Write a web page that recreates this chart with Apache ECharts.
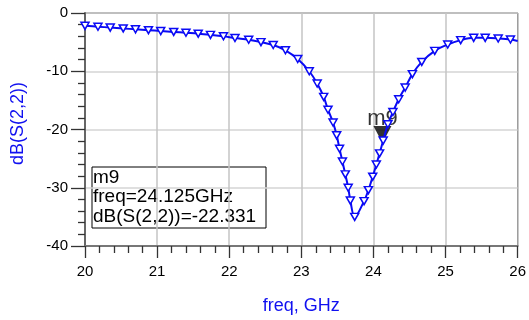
<!DOCTYPE html>
<html>
<head>
<meta charset="utf-8">
<script src="https://cdn.jsdelivr.net/npm/echarts@6/dist/echarts.min.js"></script>
<style>
html, body { margin: 0; padding: 0; background: #fff; }
#myChart { width: 529px; height: 320px; }
</style>
</head>
<body>
<div id="myChart"></div>
<script>
// 数据 (读自图片)
let freq = [20.00, 20.18, 20.35, 20.53, 20.70, 20.88, 21.05, 21.23, 21.40, 21.57, 21.74, 21.92,
    22.08, 22.27, 22.44, 22.61, 22.78, 22.95, 23.11, 23.22, 23.31, 23.37, 23.44, 23.49, 23.53,
    23.57, 23.61, 23.65, 23.68, 23.74, 23.87, 23.93, 23.99, 24.04, 24.085, 24.135, 24.20, 24.27,
    24.35, 24.44, 24.54, 24.67, 24.85, 25.03, 25.21, 25.39, 25.55, 25.73, 25.90, 26.00]
let s22 = [-2.2, -2.35, -2.5, -2.65, -2.8, -2.95, -3.1, -3.25, -3.4, -3.55, -3.75, -4.0,
    -4.3, -4.6, -5.0, -5.5, -6.4, -7.9, -10.0, -12.1, -14.4, -16.6, -18.8, -21.0, -23.3,
    -25.5, -27.7, -30.0, -32.2, -35.0, -32.3, -30.4, -28.1, -26.0, -24.1, -21.9, -19.1, -17.0,
    -14.8, -12.8, -10.5, -8.4, -6.5, -5.4, -4.66, -4.26, -4.26, -4.37, -4.55, -4.8]
let xTicks = [20, 21, 22, 23, 24, 25, 26]
let yTicks = [-40, -30, -20, -10, 0]
let markerName = 'm9'
let markerFreq = 24.125
let markerValue = -22.3319

let myChart = echarts.init(document.getElementById('myChart'))
let font = 'Liberation Sans, Arial, sans-serif'

// 最后一个点只画线不画符号
let lineData = freq.map((f, i) => {
    if (i === freq.length - 1) return { value: [f, s22[i]], symbol: 'none' }
    return [f, s22[i]]
})

let option = {
    animation: false,
    grid: {
        left: 85, right: 8, top: 13, bottom: 72,
        show: true,
        borderColor: '#000',
        borderWidth: 1
    },
    xAxis: {
        type: 'value',
        min: xTicks[0],
        max: xTicks[xTicks.length - 1],
        interval: 1,
        name: 'freq, GHz',
        nameLocation: 'middle',
        nameGap: 51,
        nameTextStyle: { color: '#1010f0', fontSize: 18, fontFamily: font },
        axisLine: { show: true, onZero: false, lineStyle: { color: '#777', width: 2 } },
        axisTick: { show: true, length: 12, lineStyle: { color: '#333', width: 1.3 } },
        minorTick: { show: true, splitNumber: 5, length: 7, lineStyle: { color: '#333', width: 1.3 } },
        axisLabel: { color: '#000', fontSize: 15, fontFamily: font, margin: 18 },
        splitLine: { show: true, lineStyle: { color: '#c4c4c4', width: 1.5 } }
    },
    yAxis: {
        type: 'value',
        min: yTicks[0],
        max: yTicks[yTicks.length - 1],
        interval: 10,
        name: 'dB(S(2,2))',
        nameLocation: 'middle',
        nameGap: 58,
        nameTextStyle: { color: '#1010f0', fontSize: 18, fontFamily: font, padding: [0, 0, 0, 12] },
        axisLine: { show: true, onZero: false, lineStyle: { color: '#666', width: 2 } },
        axisTick: { show: true, length: 14, lineStyle: { color: '#333', width: 1.3 } },
        minorTick: { show: true, splitNumber: 5, length: 7, lineStyle: { color: '#333', width: 1.3 } },
        axisLabel: { color: '#000', fontSize: 15, fontFamily: font, margin: 17 },
        splitLine: { show: true, lineStyle: { color: '#d4d4d4', width: 1.5 } }
    },
    series: [
        {
            name: 'dB(S(2,2))',
            type: 'line',
            smooth: 0.35,
            data: lineData,
            symbol: 'triangle',
            symbolRotate: 180,
            symbolSize: [8, 7],
            lineStyle: { color: '#0a0af5', width: 2 },
            itemStyle: { color: '#fff', borderColor: '#0a0af5', borderWidth: 1.5 },
            z: 3
        },
        {
            name: markerName,
            type: 'scatter',
            data: [[markerFreq, markerValue]],
            symbol: 'triangle',
            symbolRotate: 180,
            symbolSize: [18, 17],
            symbolOffset: [0, -8.5],
            itemStyle: { color: '#000' },
            label: {
                show: true,
                position: 'top',
                distance: -4,
                formatter: markerName,
                color: '#000',
                fontSize: 22,
                fontFamily: font
            },
            z: 2
        }
    ],
    graphic: [
        {
            type: 'rect',
            shape: { x: 92, y: 167, width: 174, height: 61 },
            style: { fill: 'none', stroke: '#000', lineWidth: 1 }
        },
        {
            type: 'text',
            x: 93,
            y: 168,
            style: {
                text: markerName + '\nfreq=' + markerFreq + 'GHz\ndB(S(2,2))=' + markerValue,
                fill: '#000',
                font: '19px ' + font,
                lineHeight: 19.5,
                width: 172,
                overflow: 'truncate',
                ellipsis: ''
            }
        }
    ]
}
myChart.setOption(option)

window.addEventListener('resize', () => {
    myChart.resize()
})
</script>
</body>
</html>
